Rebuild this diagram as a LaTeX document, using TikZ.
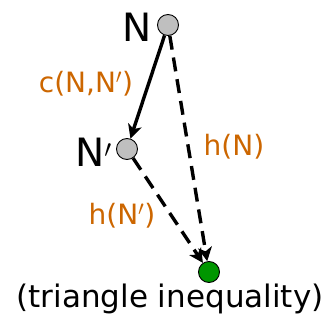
\documentclass[tikz,border=0pt]{standalone}
\usepackage{fontspec}
\setmainfont{DejaVu Sans}
\usetikzlibrary{arrows.meta}
\definecolor{lblorange}{RGB}{204,102,0}
\definecolor{goalgreen}{RGB}{0,150,0}
\begin{document}
\begin{tikzpicture}[x=1pt,y=-1pt,
  state/.style={circle,draw=black,line width=0.9pt,fill=black!25,minimum size=21pt,inner sep=0pt},
  goalst/.style={circle,draw=black,line width=0.9pt,fill=goalgreen,minimum size=21pt,inner sep=0pt},
  edgeln/.style={line width=3.4pt,-{Stealth[length=14pt,width=14pt,inset=4pt]}},
  heur/.style={edgeln,dash pattern=on 14pt off 8pt},
  lbl/.style={text=lblorange,font=\fontsize{28}{30}\selectfont,inner sep=0pt},
  big/.style={font=\fontsize{39}{40}\selectfont,inner sep=0pt}]
\useasboundingbox (0,0) rectangle (332,323);
\node[state] (n) at (168,25) {};
\node[state] (np) at (127,149) {};
\node[goalst] (g) at (209,272) {};
\node[big,anchor=east] (nl) at (152,27) {N};
\node[big,anchor=east] (npl) at (112,152) {N$'$};
\node[lbl] (c) at (86,84) {c(N,N$'$)};
\node[lbl] (hn) at (234,147) {h(N)};
\node[lbl] (hnp) at (122,216) {h(N$'$)};
\node[font=\fontsize{31}{34}\selectfont,inner sep=0pt] (t) at (170,299) {(triangle inequality)};
\draw[edgeln] (n) -- (np);
\draw[heur] (n) -- (g);
\draw[heur] (np) -- (g);
\end{tikzpicture}
\end{document}
